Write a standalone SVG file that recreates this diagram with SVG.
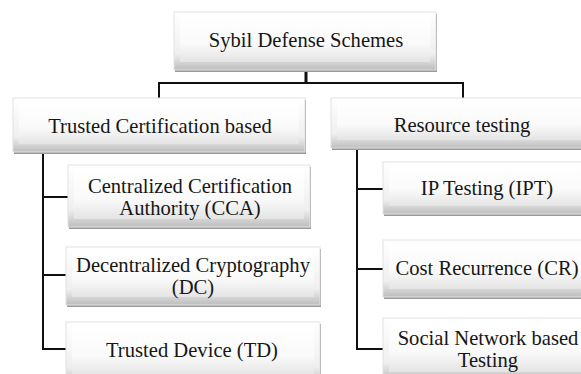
<svg xmlns="http://www.w3.org/2000/svg" width="581" height="374" viewBox="0 0 581 374">
<defs>
<linearGradient id="outer" x1="0" y1="0" x2="0" y2="1">
<stop offset="0" stop-color="#ffffff"/>
<stop offset="0.72" stop-color="#efefef"/>
<stop offset="1" stop-color="#bdbdbd"/>
</linearGradient>
<linearGradient id="inner" x1="0" y1="0" x2="0" y2="1">
<stop offset="0" stop-color="#ffffff"/>
<stop offset="0.6" stop-color="#fafafa"/>
<stop offset="1" stop-color="#e4e4e4"/>
</linearGradient>
</defs>
<style>
.sh{fill:#9a9a9a;}
.bx{fill:url(#outer);stroke:#e2e2e2;stroke-width:1;}
.in{fill:url(#inner);}
.lbl{font-family:"Liberation Serif",serif;font-size:20.6px;fill:#161616;text-anchor:middle;}
.c{fill:none;stroke:#111;stroke-width:2;}
</style>
<g id="connectors">
<line class="c" x1="306" y1="70" x2="306" y2="84" style="stroke-width:3"/>
<polyline class="c" points="159,98 159,83 463,83 463,98"/>
<line class="c" x1="43" y1="152" x2="43" y2="350"/>
<line class="c" x1="42" y1="197" x2="68" y2="197"/>
<line class="c" x1="42" y1="275" x2="66" y2="275"/>
<line class="c" x1="42" y1="349" x2="66" y2="349"/>
<line class="c" x1="357" y1="148" x2="357" y2="350"/>
<line class="c" x1="356" y1="189" x2="383" y2="189"/>
<line class="c" x1="356" y1="269" x2="383" y2="269"/>
<line class="c" x1="356" y1="349" x2="383" y2="349"/>
</g>
<g id="root">
<rect class="sh" x="175" y="14" width="262" height="58"/>
<rect class="bx" x="174" y="12" width="262" height="58"/>
<rect class="in" x="180" y="15" width="250" height="47"/>
<text class="lbl" x="306" y="47">Sybil Defense Schemes</text>
</g>
<g id="trusted">
<rect class="sh" x="14" y="100" width="292" height="54"/>
<rect class="bx" x="13" y="98" width="292" height="54"/>
<rect class="in" x="19" y="101" width="280" height="43"/>
<text class="lbl" x="160" y="133">Trusted Certification based</text>
</g>
<g id="resource">
<rect class="sh" x="332" y="100" width="264" height="50"/>
<rect class="bx" x="331" y="98" width="264" height="50"/>
<rect class="in" x="337" y="101" width="252" height="39"/>
<text class="lbl" x="462" y="132">Resource testing</text>
</g>
<g id="cca">
<rect class="sh" x="69" y="167" width="242" height="62"/>
<rect class="bx" x="68" y="165" width="242" height="62"/>
<rect class="in" x="74" y="168" width="230" height="51"/>
<text class="lbl" x="190" y="193">Centralized Certification</text>
<text class="lbl" x="190" y="215">Authority (CCA)</text>
</g>
<g id="dc">
<rect class="sh" x="67" y="249" width="254" height="58"/>
<rect class="bx" x="66" y="247" width="254" height="58"/>
<rect class="in" x="72" y="250" width="242" height="47"/>
<text class="lbl" x="193" y="272">Decentralized Cryptography</text>
<text class="lbl" x="193" y="294">(DC)</text>
</g>
<g id="td">
<rect class="sh" x="67" y="324" width="254" height="62"/>
<rect class="bx" x="66" y="322" width="254" height="62"/>
<rect class="in" x="72" y="325" width="242" height="51"/>
<text class="lbl" x="192" y="357">Trusted Device (TD)</text>
</g>
<g id="ipt">
<rect class="sh" x="384" y="164" width="208" height="52"/>
<rect class="bx" x="383" y="162" width="208" height="52"/>
<rect class="in" x="389" y="165" width="196" height="41"/>
<text class="lbl" x="487" y="195">IP Testing (IPT)</text>
</g>
<g id="cr">
<rect class="sh" x="384" y="242" width="208" height="57"/>
<rect class="bx" x="383" y="240" width="208" height="57"/>
<rect class="in" x="389" y="243" width="196" height="46"/>
<text class="lbl" x="487" y="275">Cost Recurrence (CR)</text>
</g>
<g id="sn">
<rect class="sh" x="384" y="320" width="208" height="62"/>
<rect class="bx" x="383" y="318" width="208" height="62"/>
<rect class="in" x="389" y="321" width="196" height="51"/>
<text class="lbl" x="488" y="345">Social Network based</text>
<text class="lbl" x="488" y="367">Testing</text>
</g>
</svg>
